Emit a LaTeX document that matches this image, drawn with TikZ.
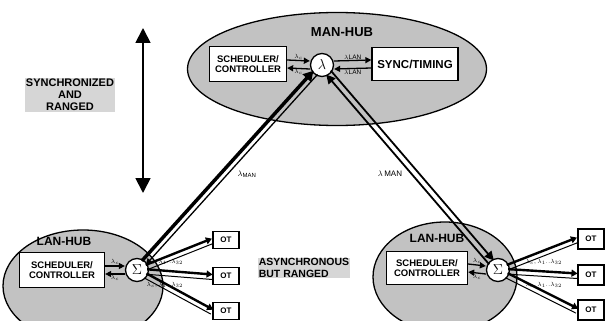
\documentclass[tikz,border=0pt]{standalone}
\usepackage{fontspec}
\setmainfont{Liberation Sans}
\usetikzlibrary{positioning, shapes.geometric, arrows.meta, calc}

\tikzset{
  hub/.style = {draw, ellipse, line width=1.3pt, fill=black!24},
  hubname/.style = {font=\bfseries\fontsize{12}{12}\selectfont, inner sep=0pt},
  ctrl/.style = {draw, line width=1.3pt, fill=white, align=center, inner sep=1pt,
                 font=\bfseries\fontsize{9.5}{10.5}\selectfont},
  mux/.style = {draw, circle, line width=1.3pt, fill=white, minimum size=23pt,
                inner sep=0pt, font=\fontsize{15}{15}\selectfont},
  ot/.style = {draw, line width=1.1pt, fill=white, minimum width=26pt, minimum height=17pt,
               inner sep=0pt, font=\bfseries\fontsize{8}{8}\selectfont},
  tag/.style = {inner sep=0.5pt, font=\fontsize{6.5}{6.5}\selectfont},
  note/.style = {fill=black!16, inner sep=1pt, font=\bfseries\fontsize{10.5}{11.5}\selectfont},
  fat/.style = {line width=3.5pt, -{Triangle[length=10pt,width=11pt]}},
  slim/.style = {line width=1.3pt, -{Triangle[length=6pt,width=6pt]}},
  pipe/.style = {line width=1.8pt, -{Triangle[length=9pt,width=9pt]}},
  otlink/.style = {line width=2.4pt, -{Triangle[length=6pt,width=7pt]}},
}

\begin{document}
\begin{tikzpicture}[x=1pt, y=-1pt]
  \useasboundingbox (0,0) rectangle (605,321);
  \clip (0,0) rectangle (605,321);

  % hubs
  \node[hub, minimum width=299pt, minimum height=113pt] (man) at (337,69) {};
  \node[hub, minimum width=160pt, minimum height=112pt] (lanL) at (83,286) {};
  \node[hub, minimum width=144pt, minimum height=110pt] (lanR) at (445,277) {};
  \node[hubname, font=\bfseries\fontsize{13}{13}\selectfont] (manname) at (342,32) {MAN-HUB};
  \node[hubname] (lanLname) at (64,241) {LAN-HUB};
  \node[hubname] (lanRname) at (437,238) {LAN-HUB};

  % MAN-HUB contents
  \node[ctrl, minimum width=77pt, minimum height=35pt] (schM) at (248,64) {SCHEDULER/\\CONTROLLER};
  \node[mux] (lam) at (322,65) {$\lambda$};
  \node[ctrl, minimum width=86pt, minimum height=33pt,
        font=\bfseries\fontsize{11.5}{12}\selectfont] (sync) at (415,64) {SYNC/TIMING};

  % LAN-HUB contents
  \node[ctrl, minimum width=85pt, minimum height=35pt] (schL) at (62,270) {SCHEDULER/\\CONTROLLER};
  \node[mux] (sigL) at (137,270) {$\Sigma$};
  \node[ctrl, minimum width=81pt, minimum height=33pt] (schR) at (427,268) {SCHEDULER/\\CONTROLLER};
  \node[mux] (sigR) at (498,270) {$\Sigma$};

  % optical terminals
  \foreach \y [count=\i] in {240,276,311} {
    \node[ot] (otL\i) at (226,\y) {OT};
  }
  \foreach \y [count=\i] in {239,275,310} {
    \node[ot, minimum height=20pt] (otR\i) at (591,\y) {OT};
  }

  % scheduler <-> switch
  \draw[slim] ([yshift=4pt]schM.east) -- ([yshift=4pt]lam.west) node[tag, midway, above] (lcM1) {$\lambda_c$};
  \draw[slim] ([yshift=-4pt]lam.west) -- ([yshift=-4pt]schM.east) node[tag, midway, below] (lcM2) {$\lambda_c$};
  \draw[slim] ([yshift=4pt]lam.east) -- ([yshift=4pt]sync.west) node[tag, midway, above] (llan1) {$\lambda$LAN};
  \draw[slim] ([yshift=-4pt]sync.west) -- ([yshift=-4pt]lam.east) node[tag, midway, below] (llan2) {$\lambda$LAN};
  \foreach \s/\m in {schL/sigL, schR/sigR} {
    \draw[slim] ([yshift=4pt]\s.east) -- ([yshift=4pt]\m.west) node[tag, midway, above] {$\lambda_c$};
    \draw[slim] ([yshift=-4pt]\m.west) -- ([yshift=-4pt]\s.east) node[tag, midway, below] {$\lambda_c$};
  }

  % MAN links
  \draw[fat, shorten <=10pt, shorten >=10pt] ($(sigL)!2.5pt!90:(lam)$) -- ($(lam)!2.5pt!-90:(sigL)$);
  \draw[slim, shorten <=10pt, shorten >=10pt] ($(lam)!3pt!90:(sigL)$) -- ($(sigL)!3pt!-90:(lam)$);
  \draw[pipe, shorten <=10pt, shorten >=10pt] ($(lam)!3pt!90:(sigR)$) -- ($(sigR)!3pt!-90:(lam)$);
  \draw[pipe, shorten <=10pt, shorten >=10pt] ($(sigR)!3pt!90:(lam)$) -- ($(lam)!3pt!-90:(sigR)$);
  \node[tag, font=\fontsize{8}{8}\selectfont] (lmanL) at (247,174) {$\lambda_{\mathrm{MAN}}$};
  \node[tag, font=\fontsize{8}{8}\selectfont] (lmanR) at (390,174) {$\lambda$\,MAN};

  % LAN links to the terminals
  \foreach \m/\t in {sigL/otL, sigR/otR} {
    \foreach \i in {1,2,3} {
      \draw[otlink, shorten <=10pt] ($(\m)!1.5pt!90:(\t\i.west)$) -- ($(\t\i.west)!1.5pt!-90:(\m)$);
      \draw[line width=1pt, shorten <=10pt] ($(\m)!3.5pt!-90:(\t\i.west)$) -- ($(\t\i.west)!3.5pt!90:(\m)$);
    }
  }
  \node[tag, anchor=west] (wlL1) at (146,262) {$\lambda_c,\lambda_1..\lambda_{32}$};
  \node[tag, anchor=west] (wlL2) at (146,285) {$\lambda_c,\lambda_1..\lambda_{32}$};
  \node[tag, anchor=west] (wlR1) at (525,262) {$\lambda_c,\lambda_1..\lambda_{32}$};
  \node[tag, anchor=west] (wlR2) at (525,285) {$\lambda_c,\lambda_1..\lambda_{32}$};

  % timing regimes
  \coordinate (vtop) at (143,28);
  \coordinate (vbot) at (143,193);
  \draw[line width=1.8pt, {Triangle[length=15pt,width=15pt]}-{Triangle[length=15pt,width=15pt]}] (vtop) -- (vbot);
  \node[note, align=center, font=\bfseries\fontsize{11}{12}\selectfont] (syncnote) at (70,95) {SYNCHRONIZED\\AND\\RANGED};
  \node[note, align=left] (asyncnote) at (304,268) {ASYNCHRONOUS\\BUT RANGED};
\end{tikzpicture}
\end{document}
